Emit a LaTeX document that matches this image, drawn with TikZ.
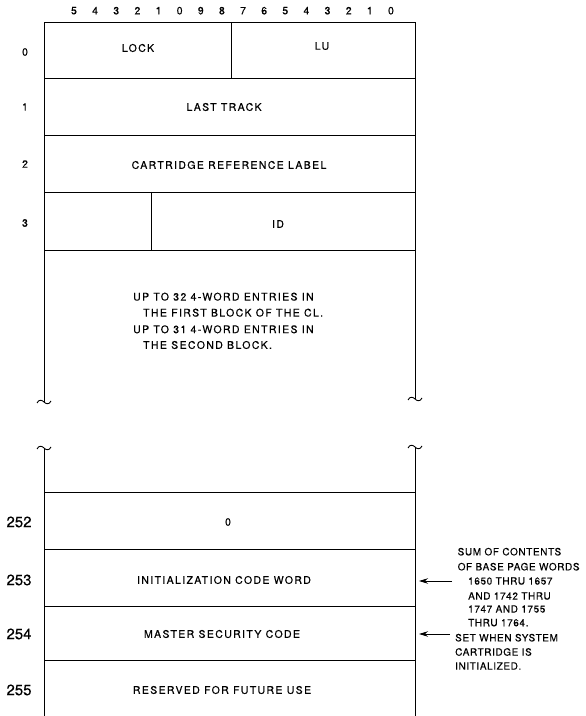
\documentclass[tikz,border=0pt]{standalone}
\usepackage{fontspec}
\setmainfont[FakeBold=0.3]{TeX Gyre Heros}
\newfontfamily\fieldfont[LetterSpace=13,FakeBold=0.3]{TeX Gyre Heros}
\newfontfamily\notefont[LetterSpace=6,FakeBold=0.2]{TeX Gyre Heros}
\usetikzlibrary{arrows.meta}
\tikzset{
  wall/.style={line width=0.9pt},
  field/.style={font=\fieldfont\fontsize{10.5}{12}\selectfont, inner sep=0pt},
  para/.style={font=\fieldfont\fontsize{10.5}{12}\selectfont, inner sep=0pt, anchor=west},
  bitnum/.style={font=\fontsize{10.5}{12}\selectfont, inner sep=0pt},
  rowlbl/.style={font=\fontsize{10.5}{12}\selectfont, inner sep=0pt},
  bigrowlbl/.style={font=\fontsize{15}{18}\selectfont, inner sep=0pt},
  note/.style={font=\notefont\fontsize{10}{12}\selectfont, inner sep=0pt, anchor=west},
  pointer/.style={-{Stealth[length=9pt,width=5.5pt]}, line width=0.9pt},
  wavy/.pic={\draw[wall] (-7,-1) .. controls (-5,3) and (-2,2) .. (0,0) .. controls (2,-2) and (5,-3) .. (7,1);}
}
\begin{document}
\begin{tikzpicture}[x=1pt,y=1pt]
\useasboundingbox (0,0) rectangle (586,716);
% bit numbers
\foreach \b [count=\i from 0] in {5,4,3,2,1,0,9,8,7,6,5,4,3,2,1,0}
  \node[bitnum] (bit\i) at ({74+21.13*\i},705.3) {\b};
% upper block
\draw[wall] (44,693.3) rectangle (415,465.7);
\draw[wall] (44,637.5) -- (415,637.5);
\draw[wall] (44,581) -- (415,581);
\draw[wall] (44,524) -- (415,524);
\draw[wall] (231,693.3) -- (231,637.5);
\draw[wall] (151,524) -- (151,465.7);
% middle sides
\draw[wall] (44,465.7) -- (44,314);
\draw[wall] (415,465.7) -- (415,317);
\pic at (44,314) {wavy};
\pic at (415,317) {wavy};
\pic at (44,268) {wavy};
\pic at (415,269) {wavy};
% lower block
\draw[wall] (44,268) -- (44,0);
\draw[wall] (415,269) -- (415,0);
\draw[wall] (44,224) -- (415,224);
\draw[wall] (44,167) -- (415,167);
\draw[wall] (44,109.5) -- (415,109.5);
\draw[wall] (44,55.5) -- (415,55.5);
% row labels
\node[rowlbl] (r0) at (25,664) {0};
\node[rowlbl] (r1) at (25,609) {1};
\node[rowlbl] (r2) at (25,552) {2};
\node[rowlbl] (r3) at (25,493) {3};
\node[bigrowlbl] (r252) at (19,194) {252};
\node[bigrowlbl] (r253) at (19,136) {253};
\node[bigrowlbl] (r254) at (19,82) {254};
\node[bigrowlbl] (r255) at (19,26) {255};
% fields
\node[field] (lock) at (138,668) {LOCK};
\node[field] (lu) at (322,670) {LU};
\node[field] (lasttrack) at (224,609) {LAST TRACK};
\node[field] (crl) at (229,551) {CARTRIDGE REFERENCE LABEL};
\node[field] (id) at (278,492) {ID};
\node[para] (m1) at (133,419.3) {UP TO 32 4-WORD ENTRIES IN};
\node[para] (m2) at (143,403.3) {THE FIRST BLOCK OF THE CL.};
\node[para] (m3) at (133,386.7) {UP TO 31 4-WORD ENTRIES IN};
\node[para] (m4) at (143,371) {THE SECOND BLOCK.};
\node[field] (zero) at (228,194) {0};
\node[field] (icw) at (224,136) {INITIALIZATION CODE WORD};
\node[field] (msc) at (222,82) {MASTER SECURITY CODE};
\node[field] (rfu) at (222,26) {RESERVED FOR FUTURE USE};
% notes
\node[note] (n1) at (457.5,164.3) {SUM OF CONTENTS};
\node[note] (n2) at (457.5,149.3) {OF BASE PAGE WORDS};
\node[note] (n3) at (468,135) {1650 THRU 1657};
\node[note] (n4) at (468,120) {AND 1742 THRU};
\node[note] (n5) at (468,107) {1747 AND 1755};
\node[note] (n6) at (468,93.3) {THRU 1764.};
\node[note] (n7) at (455,78.3) {SET WHEN SYSTEM};
\node[note] (n8) at (455,64) {CARTRIDGE IS};
\node[note] (n9) at (455,50) {INITIALIZED.};
% pointers
\coordinate (t253) at (452,135);
\coordinate (h253) at (419,135);
\coordinate (t254) at (450,82);
\coordinate (h254) at (419,82);
\draw[pointer] (t253) -- (h253);
\draw[pointer] (t254) -- (h254);
\end{tikzpicture}
\end{document}
